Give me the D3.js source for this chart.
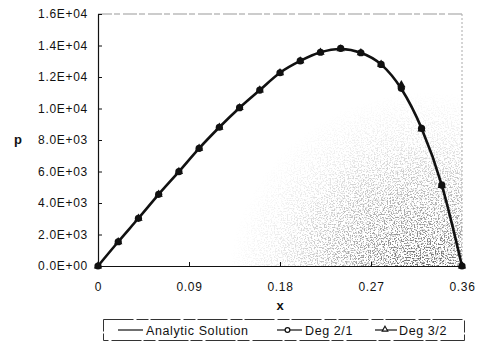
<!DOCTYPE html>
<html>
<head>
<meta charset="utf-8">
<script src="https://cdn.jsdelivr.net/npm/d3@7"></script>
<style>
  body { margin: 0; background: #fff; }
  text { font-family: "Liberation Sans", Arial, sans-serif; fill: #111; }
  .axis text { font-size: 12px; letter-spacing: 0.7px; }
  .axis path, .axis line { stroke: #111; }
</style>
</head>
<body>
<svg width="485" height="343"></svg>
<script>
const xs       = [0, 0.02, 0.04, 0.06, 0.08, 0.10, 0.12, 0.14, 0.16, 0.18, 0.20, 0.22, 0.24, 0.26, 0.28, 0.30, 0.32, 0.34, 0.36];
const analytic = [0, 1540, 3030, 4550, 5990, 7470, 8810, 10050, 11170, 12270, 13020, 13570, 13780, 13540, 12800, 11250, 8740, 5140, 0];
const deg21    = [0, 1540, 3030, 4550, 5990, 7470, 8810, 10050, 11170, 12270, 13020, 13570, 13820, 13540, 12800, 11280, 8740, 5140, 0];
const deg32    = [0, 1540, 3030, 4550, 5990, 7470, 8810, 10050, 11170, 12270, 13020, 13570, 13780, 13540, 12800, 11500, 8700, 5100, 0];
const xTicks = [0, 0.09, 0.18, 0.27, 0.36];
const yTicks = [0, 2000, 4000, 6000, 8000, 10000, 12000, 14000, 16000];
const legendNames = ["Analytic Solution", "Deg 2/1", "Deg 3/2"];

const svg = d3.select("svg");
const pLeft = 98, pRight = 462, pTop = 14, pBottom = 266;

const x = d3.scaleLinear().domain([0, 0.36]).range([pLeft, pRight]);
const y = d3.scaleLinear().domain([0, 16000]).range([pBottom, pTop]);

// scan speckle in the lower right of the plot area
const defs = svg.append("defs");
const grad = defs.append("radialGradient").attr("id", "spot")
  .attr("gradientUnits", "userSpaceOnUse")
  .attr("cx", 425).attr("cy", 290).attr("r", 200);
grad.append("stop").attr("offset", "0").attr("stop-color", "#000").attr("stop-opacity", 1);
grad.append("stop").attr("offset", "0.35").attr("stop-color", "#000").attr("stop-opacity", 0.55);
grad.append("stop").attr("offset", "0.75").attr("stop-color", "#000").attr("stop-opacity", 0.12);
grad.append("stop").attr("offset", "1").attr("stop-color", "#000").attr("stop-opacity", 0);
const f = defs.append("filter").attr("id", "noise")
  .attr("x", 0).attr("y", 0).attr("width", 1).attr("height", 1);
f.append("feTurbulence").attr("type", "fractalNoise").attr("baseFrequency", 0.7)
  .attr("numOctaves", 2).attr("seed", 11).attr("result", "t");
f.append("feColorMatrix").attr("in", "t").attr("type", "matrix")
  .attr("values", "0 0 0 0 0  0 0 0 0 0  0 0 0 0 0  6 0 0 0 -2.9").attr("result", "n");
f.append("feComposite").attr("in", "n").attr("in2", "SourceGraphic").attr("operator", "in");
svg.append("rect")
  .attr("x", pLeft + 1).attr("y", pTop + 1)
  .attr("width", pRight - pLeft - 1).attr("height", pBottom - pTop - 1)
  .attr("fill", "url(#spot)").attr("filter", "url(#noise)").attr("opacity", 0.7);

// plot frame, top and right
svg.append("line").attr("x1", pLeft).attr("x2", pRight).attr("y1", pTop).attr("y2", pTop)
  .attr("stroke", "#999").attr("stroke-dasharray", "14 2 6 3");
svg.append("line").attr("x1", pRight).attr("x2", pRight).attr("y1", pTop).attr("y2", pBottom)
  .attr("stroke", "#aaa").attr("stroke-dasharray", "2 2");

// axes
svg.append("g").attr("class", "axis")
  .attr("transform", `translate(${pLeft},0)`)
  .call(d3.axisLeft(y).tickValues(yTicks).tickSizeInner(-4).tickSizeOuter(0).tickPadding(10)
    .tickFormat(d => d.toExponential(1).replace("e+", "E+0").replace(/E\+0(\d\d)/, "E+$1").toUpperCase()));

svg.append("g").attr("class", "axis")
  .attr("transform", `translate(0,${pBottom})`)
  .call(d3.axisBottom(x).tickValues(xTicks).tickSizeInner(-4).tickSizeOuter(0).tickPadding(16)
    .tickFormat(d => d === 0 ? "0" : d3.format(".2f")(d)));

svg.selectAll(".axis .domain").attr("stroke-width", 1.2);

// axis titles
svg.append("text").attr("x", 18).attr("y", 144).attr("text-anchor", "middle")
  .style("font-size", "13px").style("font-weight", "bold").text("p");
svg.append("text").attr("x", 280).attr("y", 310).attr("text-anchor", "middle")
  .style("font-size", "13px").style("font-weight", "bold").text("x");

// analytic line
const line = d3.line().x((d, i) => x(xs[i])).y(d => y(d)).curve(d3.curveMonotoneX);
svg.append("path").datum(analytic).attr("d", line)
  .attr("fill", "none").attr("stroke", "#111").attr("stroke-width", 2.6);

// Deg 2/1 markers
svg.selectAll(".c").data(deg21).enter().append("circle")
  .attr("cx", (d, i) => x(xs[i])).attr("cy", d => y(d)).attr("r", 3.6)
  .attr("fill", "#111");

// Deg 3/2 markers
const tri = d3.symbol().type(d3.symbolTriangle).size(30);
svg.selectAll(".t").data(deg32).enter().append("path")
  .attr("d", tri)
  .attr("transform", (d, i) => `translate(${x(xs[i])},${y(d)})`)
  .attr("fill", "#111");

// legend
const lg = svg.append("g");
lg.append("rect").attr("x", 103.5).attr("y", 319.5).attr("width", 361).attr("height", 21)
  .attr("fill", "#fff").attr("stroke", "#333").attr("stroke-dasharray", "30 3 12 2");
const items = [
  { x1: 118, x2: 143, tx: 146, mark: null },
  { x1: 277, x2: 302, tx: 305, mark: "circle" },
  { x1: 375, x2: 397, tx: 399, mark: "triangle" }
];
items.forEach((it, i) => {
  lg.append("line").attr("x1", it.x1).attr("x2", it.x2).attr("y1", 330).attr("y2", 330)
    .attr("stroke", "#111").attr("stroke-width", 1.2);
  if (it.mark === "circle") {
    lg.append("circle").attr("cx", (it.x1 + it.x2) / 2 - 2).attr("cy", 330).attr("r", 2.4)
      .attr("fill", "#fff").attr("stroke", "#111").attr("stroke-width", 1.2);
  } else if (it.mark === "triangle") {
    lg.append("path").attr("d", d3.symbol().type(d3.symbolTriangle).size(14))
      .attr("transform", `translate(${(it.x1 + it.x2) / 2 - 1},329.5)`)
      .attr("fill", "#fff").attr("stroke", "#111").attr("stroke-width", 1.1);
  }
  lg.append("text").attr("x", it.tx).attr("y", 334.5)
    .style("font-size", "12.5px").style("letter-spacing", "0.6px").text(legendNames[i]);
});
</script>
</body>
</html>
